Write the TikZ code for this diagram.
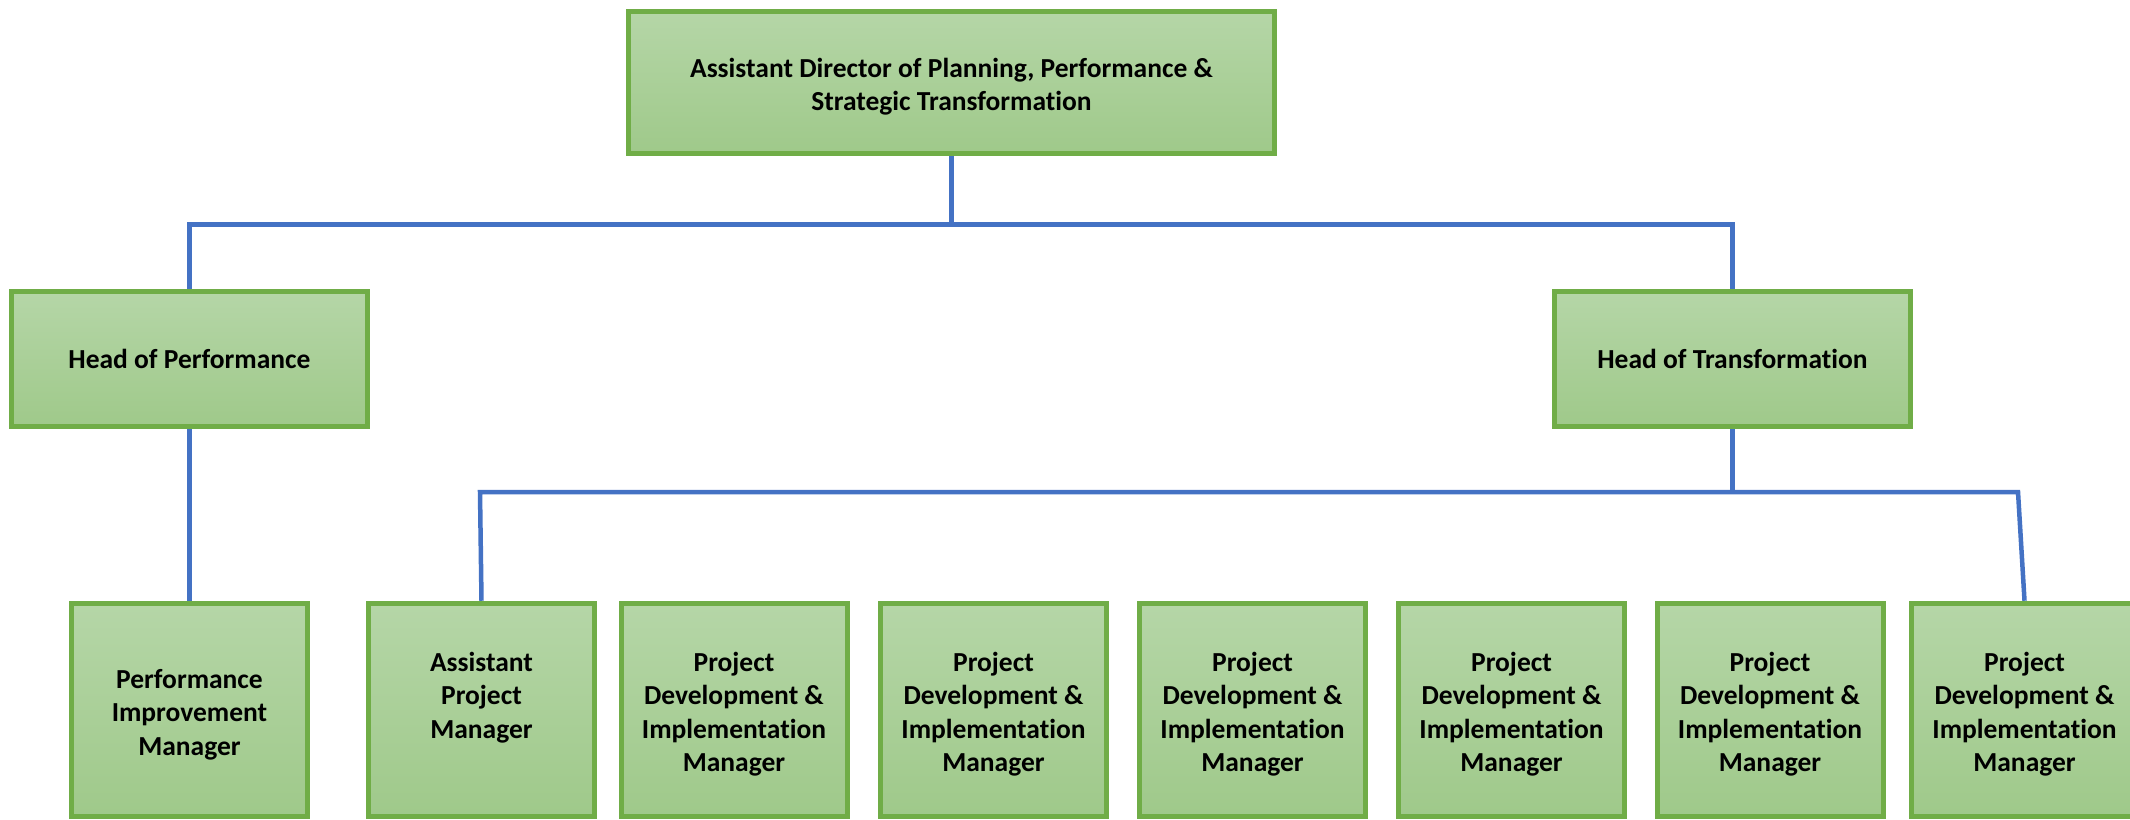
\documentclass[tikz,border=0pt]{standalone}
\usepackage{fontspec}
\setmainfont{Carlito}[Ligatures={NoCommon}]
\usetikzlibrary{backgrounds}
\definecolor{boxline}{HTML}{70AD47}
\definecolor{boxtop}{HTML}{B5D6A7}
\definecolor{boxbot}{HTML}{9FC98A}
\definecolor{conncol}{HTML}{4472C4}
\newcommand{\lowerline}{\rule{0pt}{28pt}}
\begin{document}
\begin{tikzpicture}[x=1pt,y=-1pt,
  box/.style={draw=boxline,line width=5pt,top color=boxtop,bottom color=boxbot,
    align=center,font=\fontsize{27.5}{33.5}\selectfont\bfseries,inner sep=0pt},
  headbox/.style={box,minimum width=356pt,minimum height=135pt},
  lowbox/.style={box,minimum width=226pt,minimum height=213.5pt},
  conn/.style={draw=conncol,line width=4.5pt}]
\useasboundingbox (0,0) rectangle (2130,819);

\node[box,minimum width=646pt,minimum height=142pt] (top) at (951.5,82.5)
  {\lowerline Assistant Director of Planning, Performance \&\\Strategic Transformation};
\node[headbox] (hp) at (189.5,359) {Head of Performance};
\node[headbox] (ht) at (1732.5,359) {Head of Transformation};

\node[lowbox,minimum width=236pt] (b1) at (189.5,710) {\lowerline Performance\\Improvement\\Manager};
\node[lowbox] (b2) at (481.5,710) {\lowerline Assistant\\Project\\Manager\\\vphantom{g}};
\node[lowbox] (b3) at (734,710) {\lowerline Project\\Development \&\\Implementation\\Manager};
\node[lowbox] (b4) at (993.5,710) {\lowerline Project\\Development \&\\Implementation\\Manager};
\node[lowbox] (b5) at (1252.5,710) {\lowerline Project\\Development \&\\Implementation\\Manager};
\node[lowbox] (b6) at (1511.5,710) {\lowerline Project\\Development \&\\Implementation\\Manager};
\node[lowbox] (b7) at (1770,710) {\lowerline Project\\Development \&\\Implementation\\Manager};
\node[lowbox] (b8) at (2024.5,710) {\lowerline Project\\Development \&\\Implementation\\Manager};

\coordinate (busT) at (951.5,224.5);
\coordinate (busB) at (1732.5,492);
\coordinate (cL) at (480,492);
\coordinate (cR) at (2018,492);

\begin{scope}[on background layer]
\draw[conn] (top.south) -- (busT);
\draw[conn] (hp.north) |- (busT) -| (ht.north);
\draw[conn] (hp.south) -- (b1.north);
\draw[conn] (ht.south) -- (busB);
\draw[conn] (b2.north) -- (cL) -- (cR) -- (b8.north);
\end{scope}
\end{tikzpicture}
\end{document}
